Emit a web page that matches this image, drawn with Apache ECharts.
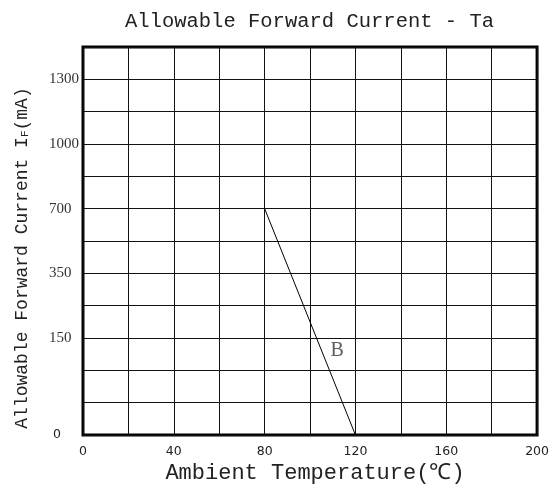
<!DOCTYPE html>
<html>
<head>
<meta charset="utf-8">
<script src="https://cdn.jsdelivr.net/npm/echarts@6/dist/echarts.min.js"></script>
<style>html,body{margin:0;padding:0;background:#fff;}#c{width:552px;height:486px;}</style>
</head>
<body>
<div id="c"></div>
<script>
// Y axis is a non-linear (indexed) scale: tick labels by grid row index
var yTickLabels = ['0', '', '', '150', '', '350', '', '700', '', '1000', '', '1300', ''];
var xTickLabels = ['0', '', '40', '', '80', '', '120', '', '160', '', '200'];
// Curve B
var curveTemps = [80, 120];
var curveCurrents = [700, 0];
var curveName = 'B';
var curveLabelAt = [112, 150]; // temperature, current (label anchor)

function currentToRow(v) {
  // map a current value onto the indexed y scale via labeled ticks
  var pts = [];
  for (var i = 0; i < yTickLabels.length; i++) {
    if (yTickLabels[i] !== '') pts.push([Number(yTickLabels[i]), i]);
  }
  for (var j = 0; j < pts.length - 1; j++) {
    if (v >= pts[j][0] && v <= pts[j + 1][0]) {
      return pts[j][1] + (v - pts[j][0]) / (pts[j + 1][0] - pts[j][0]) * (pts[j + 1][1] - pts[j][1]);
    }
  }
  return pts[pts.length - 1][1];
}

var lineData = curveTemps.map(function (t, i) { return [t, currentToRow(curveCurrents[i])]; });
var labelRow = 2.6;

var chart = echarts.init(document.getElementById('c'), null, {renderer: 'canvas'});
var mono = '"Liberation Mono", "DejaVu Sans Mono", monospace';
chart.setOption({
  animation: false,
  backgroundColor: '#fff',
  title: {
    text: 'Allowable Forward Current - Ta',
    left: 120, top: 6,
    textStyle: {fontFamily: mono, fontSize: 20.5, fontWeight: 'normal', color: '#222'}
  },
  grid: {left: 83, right: 10, top: 47, bottom: 51, show: true, borderColor: '#000', borderWidth: 3, backgroundColor: 'transparent'},
  xAxis: {
    type: 'value', min: 0, max: 200, interval: 20,
    axisLine: {show: false}, axisTick: {show: false},
    splitLine: {show: true, lineStyle: {color: '#111', width: 1}},
    axisLabel: {
      margin: 10, color: '#222', fontFamily: '"DejaVu Sans", sans-serif', fontSize: 12.5,
      formatter: function (v) { return xTickLabels[Math.round(v / 20)] || ''; }
    }
  },
  yAxis: {
    type: 'value', min: 0, max: 12, interval: 1,
    axisLine: {show: false}, axisTick: {show: false},
    splitLine: {show: true, lineStyle: {color: '#111', width: 1}},
    axisLabel: {
      align: 'left', margin: 34, color: '#333',
      fontFamily: '"Liberation Serif", serif', fontSize: 15,
      formatter: function (v) {
        var s = yTickLabels[Math.round(v)] || '';
        if (s === '0') return '{z|0}';
        return s;
      },
      rich: {z: {fontFamily: '"DejaVu Sans", sans-serif', fontSize: 12.5, color: '#222', padding: [0, 0, 0, 4]}}
    }
  },
  graphic: [
    {
      type: 'text', x: 22, y: 258, rotation: Math.PI / 2,
      style: {
        text: '{a|Allowable Forward Current I}{s|F}{a|(mA)}',
        align: 'center', verticalAlign: 'middle',
        rich: {
          a: {fontFamily: mono, fontSize: 18, fill: '#222'},
          s: {fontFamily: mono, fontSize: 11, fill: '#222', padding: [6, 0, 0, 0]}
        }
      }
    },
    {
      type: 'text', x: 315, y: 473,
      style: {
        text: 'Ambient Temperature(℃)',
        align: 'center', verticalAlign: 'middle',
        font: '22px ' + mono, fill: '#222'
      }
    }
  ],
  series: [
    {
      type: 'line', data: lineData, symbol: 'none',
      lineStyle: {color: '#000', width: 1}, z: 5
    },
    {
      type: 'scatter', symbolSize: 0,
      data: [[curveLabelAt[0], labelRow]],
      label: {show: true, formatter: curveName, position: 'inside', color: '#333',
        fontFamily: '"Liberation Serif", serif', fontSize: 20}
    }
  ]
});
</script>
</body>
</html>
